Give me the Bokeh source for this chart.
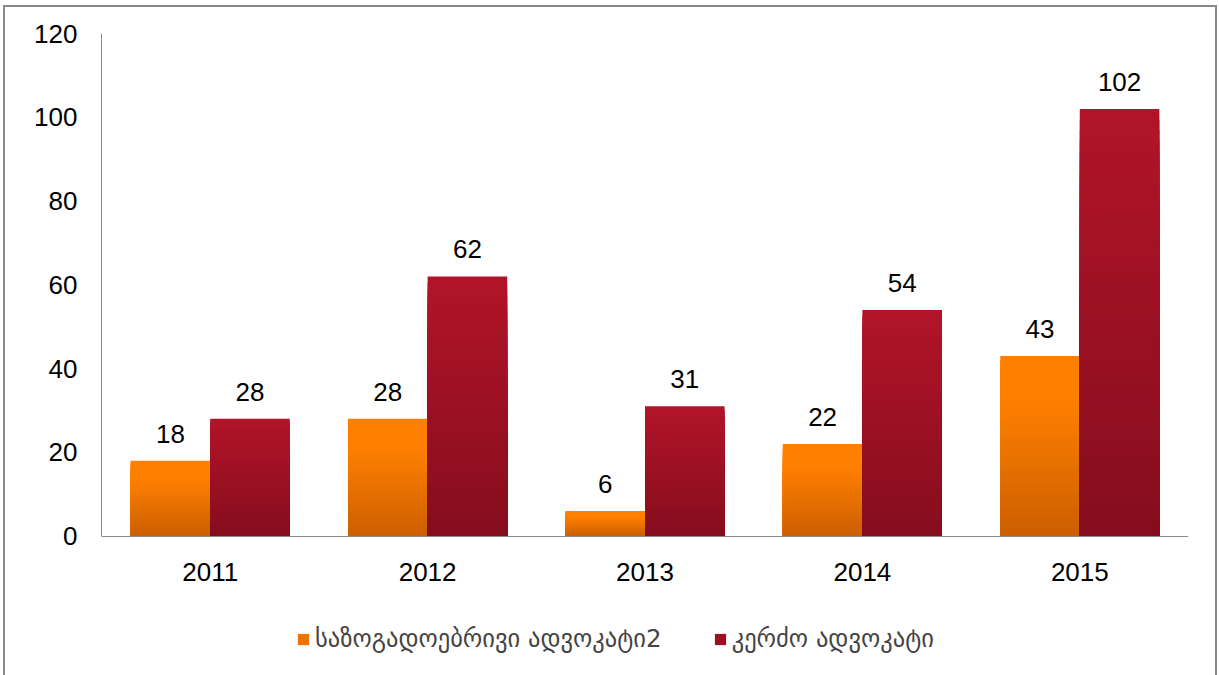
from bokeh.plotting import figure
from bokeh.models import (ColumnDataSource, FactorRange, Range1d, FixedTicker,
                          Legend, LegendItem)
from bokeh.transform import dodge
from bokeh.core.properties import value
from bokeh.embed import file_html
from bokeh.resources import INLINE

# ---- data ----
years = ["2011", "2012", "2013", "2014", "2015"]
public_defender = [18, 28, 6, 22, 43]
private_lawyer = [28, 62, 31, 54, 102]
y_ticks = [0, 20, 40, 60, 80, 100, 120]
series_names = ["საზოგადოებრივი ადვოკატი2", "კერძო ადვოკატი"]

# ---- styling helpers ----
def hex_to_rgb(h):
    h = h.lstrip("#")
    return [int(h[i:i + 2], 16) for i in (0, 2, 4)]

def lerp(c1, c2, t):
    a, b = hex_to_rgb(c1), hex_to_rgb(c2)
    return "#%02x%02x%02x" % tuple(int(round(a[i] + (b[i] - a[i]) * t)) for i in range(3))

def orange_color(t):
    s = max(0.0, (t - 0.25) / 0.75)
    return lerp("#FF8000", "#CC5E00", s)

def red_color(t):
    return lerp("#B21429", "#850D1D", t)

N = 40

def gradient_source(values, color_fn):
    xs, tops, colors = [], [], []
    for k in reversed(range(N)):
        frac = (k + 1) / N
        t = 1 - (k + 0.5) / N
        for yr, v in zip(years, values):
            xs.append(yr)
            tops.append(v * frac)
            colors.append(color_fn(t))
    return ColumnDataSource(dict(x=xs, top=tops, color=colors))

# layout (pixels)
W, H = 1210, 668
FRAME_TOP, FRAME_ZERO, FRAME_BOTTOM = 26, 527, 663   # within canvas
Y_MAX = 120
y_start = -Y_MAX * (FRAME_BOTTOM - FRAME_ZERO) / (FRAME_ZERO - FRAME_TOP)

p = figure(x_range=FactorRange(factors=years), y_range=Range1d(y_start, Y_MAX),
           width=W, height=H, output_backend="svg", toolbar_location=None,
           min_border_left=96, min_border_right=31, min_border_top=FRAME_TOP,
           min_border_bottom=H - FRAME_BOTTOM)
p.styles = {"box-sizing": "content-box",
            "border-top": "2px solid #8a8a8a",
            "border-left": "2px solid #8a8a8a",
            "border-right": "2px solid #8a8a8a",
            "margin-left": "3px", "margin-top": "5px"}

BW = 0.366
OFF = 0.183
src1 = gradient_source(public_defender, orange_color)
src2 = gradient_source(private_lawyer, red_color)
r1 = p.vbar(x=dodge("x", -OFF, range=p.x_range), top="top", bottom=0, width=BW,
            fill_color="color", line_color=None, source=src1)
r2 = p.vbar(x=dodge("x", OFF, range=p.x_range), top="top", bottom=0, width=BW,
            fill_color="color", line_color=None, source=src2)

lab = ColumnDataSource(dict(x=years, a=public_defender, b=private_lawyer,
                            la=[str(v) for v in public_defender],
                            lb=[str(v) for v in private_lawyer]))
for col, txt, off in (("a", "la", -OFF), ("b", "lb", OFF)):
    p.text(x=dodge("x", off, range=p.x_range), y=col, text=txt, source=lab,
           text_font=value("Liberation Sans"), text_font_size="26px",
           text_color="black", text_align="center", text_baseline="bottom",
           y_offset=-18)

p.xgrid.visible = False
p.ygrid.visible = False
p.outline_line_color = None

for ax in (p.xaxis[0], p.yaxis[0]):
    ax.axis_line_color = "#8c8c8c"
    ax.axis_line_width = 1
    ax.major_tick_line_color = None
    ax.major_tick_out = 0
    ax.major_tick_in = 0
    ax.minor_tick_line_color = None
    ax.major_label_text_font = "Liberation Sans"
    ax.major_label_text_font_size = "26px"
    ax.major_label_text_color = "black"
p.yaxis[0].ticker = FixedTicker(ticks=y_ticks)
p.yaxis[0].bounds = (0, Y_MAX)
p.yaxis[0].major_label_standoff = 24
p.xaxis[0].fixed_location = 0
p.xaxis[0].major_label_standoff = 27

mid = (N // 2) * len(years)
legend = Legend(items=[LegendItem(label=series_names[0], renderers=[r1], index=mid),
                       LegendItem(label=series_names[1], renderers=[r2], index=mid)],
                orientation="horizontal", location=(195, 19),
                glyph_width=14, glyph_height=14, label_standoff=5, spacing=51,
                padding=0, margin=0, border_line_color=None,
                background_fill_alpha=0,
                label_text_font="DejaVu Sans", label_text_font_size="24.5px")
p.add_layout(legend, "center")

open("out.html", "w").write(file_html(p, INLINE))
